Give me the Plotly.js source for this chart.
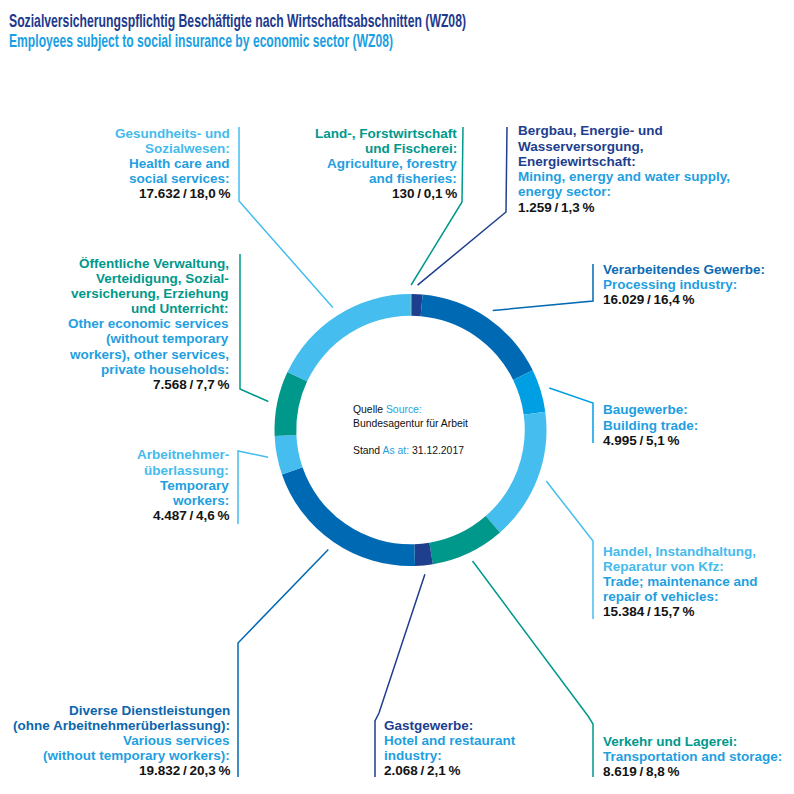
<!DOCTYPE html>
<html><head><meta charset="utf-8">
<script src="https://cdn.plot.ly/plotly-3.0.1.min.js"></script>
<style>body{margin:0;background:#fff}#chart{width:794px;height:794px}</style>
</head><body><div id="chart"></div>
<script>
// ---------- DATA ----------
const categoriesDe = [
  ["Land-, Forstwirtschaft", "und Fischerei:"],
  ["Bergbau, Energie- und", "Wasserversorgung,", "Energiewirtschaft:"],
  ["Verarbeitendes Gewerbe:"],
  ["Baugewerbe:"],
  ["Handel, Instandhaltung,", "Reparatur von Kfz:"],
  ["Verkehr und Lagerei:"],
  ["Gastgewerbe:"],
  ["Diverse Dienstleistungen", "(ohne Arbeitnehmerüberlassung):"],
  ["Arbeitnehmer-", "überlassung:"],
  ["Öffentliche Verwaltung,", "Verteidigung, Sozial-", "versicherung, Erziehung", "und Unterricht:"],
  ["Gesundheits- und", "Sozialwesen:"]
];
const categoriesEn = [
  ["Agriculture, forestry", "and fisheries:"],
  ["Mining, energy and water supply,", "energy sector:"],
  ["Processing industry:"],
  ["Building trade:"],
  ["Trade; maintenance and", "repair of vehicles:"],
  ["Transportation and storage:"],
  ["Hotel and restaurant", "industry:"],
  ["Various services", "(without temporary workers):"],
  ["Temporary", "workers:"],
  ["Other economic services", "(without temporary", "workers), other services,", "private households:"],
  ["Health care and", "social services:"]
];
const employees = [130, 1259, 16029, 4995, 15384, 8619, 2068, 19832, 4487, 7568, 17632]; // in thousands
const sharesPct = [0.1, 1.3, 16.4, 5.1, 15.7, 8.8, 2.1, 20.3, 4.6, 7.7, 18.0];

const titleDe = "Sozialversicherungspflichtig Beschäftigte nach Wirtschaftsabschnitten (WZ08)";
const titleEn = "Employees subject to social insurance by economic sector (WZ08)";
const sourceDe = "Quelle", sourceEn = "Source:", sourceName = "Bundesagentur für Arbeit";
const standDe = "Stand", standEn = "As at:", standDate = "31.12.2017";

// ---------- STYLE ----------
const TEAL = "#00988B", NAVY = "#1E3E8E", MID = "#0069B3", BRIGHT = "#009FE3", LIGHT = "#45BDEE";
const sliceColors = [TEAL, NAVY, MID, BRIGHT, LIGHT, TEAL, NAVY, MID, LIGHT, TEAL, LIGHT];
const deTextColors = [TEAL, NAVY, "#0C6BB5", "#1A9EE2", "#45BBEC", TEAL, NAVY, "#0C66AE", "#45BBEC", TEAL, "#45BBEC"];
const EN_COLOR = "#1F9FE0";
const TITLE_DE_COLOR = "#1E3A8C", TITLE_EN_COLOR = "#1A9FE2";

const W = 794, H = 794;
const CX = 410.5, CY = 430, R = 136, HOLE = 0.84, LEADER_R = 145;
const LINE_H = 15.2;
const TITLE_WIDTHS = [457, 384];
const labelLayout = [
  {x: 458, side: "right", y: 133, leader: [[462, 202], [463, 127]]},
  {x: 517, side: "left",  y: 131, leader: [[506, 212], [507, 127]]},
  {x: 602, side: "left",  y: 269, leader: [[593, 301], [593, 264]]},
  {x: 602, side: "left",  y: 410, leader: [[593, 403], [593, 443]]},
  {x: 602, side: "left",  y: 551, leader: [[593, 541], [593, 619]]},
  {x: 602, side: "left",  y: 741, leader: [[588, 716], [593, 724], [593, 777]]},
  {x: 383, side: "left",  y: 725, leader: [[379, 713], [375, 721], [375, 777]]},
  {x: 231, side: "right", y: 710, leader: [[238, 643], [238, 777]]},
  {x: 230, side: "right", y: 455, leader: [[238, 451], [238, 524]]},
  {x: 230, side: "right", y: 263, leader: [[240, 389], [240, 254]]},
  {x: 231, side: "right", y: 133, leader: [[239, 201], [239, 127]]}
];

const px = x => x / W, py = y => 1 - y / H;
const fmtNum = n => String(n).replace(/\B(?=(\d{3})+(?!\d))/g, ".");
const fmtPct = p => p.toFixed(1).replace(".", ",");
const LABEL_FONT = "Liberation Sans, Arial, sans-serif";

const annotations = [];
const shapes = [];

// leader lines start at each slice's mid angle (computed from the data)
const total = employees.reduce((a, b) => a + b, 0);
let cum = 0;
employees.forEach((v, i) => {
  const mid = (cum + v / 2) / total * 2 * Math.PI;
  cum += v;
  const ex = CX + LEADER_R * Math.sin(mid), ey = CY - LEADER_R * Math.cos(mid);
  const L = labelLayout[i];
  let d = `M${px(ex)},${py(ey)}`;
  L.leader.forEach(p => { d += ` L${px(p[0])},${py(p[1])}`; });
  shapes.push({type: "path", xref: "paper", yref: "paper", path: d,
    line: {color: sliceColors[i], width: 1.5}});

  const lines = [];
  categoriesDe[i].forEach(t => lines.push({t: "<b>" + t + "</b>", c: deTextColors[i]}));
  categoriesEn[i].forEach(t => lines.push({t: "<b>" + t + "</b>", c: EN_COLOR}));
  lines.push({t: "<b>" + fmtNum(v) + "\u2009/\u2009" + fmtPct(sharesPct[i]) + "\u2009%</b>", c: "#141414"});
  lines.forEach((ln, k) => {
    annotations.push({
      xref: "paper", yref: "paper", x: px(L.x), y: py(L.y + k * LINE_H),
      xanchor: L.side, yanchor: "middle", showarrow: false, borderpad: 0, align: L.side,
      text: ln.t, font: {family: LABEL_FONT, size: 13.5, color: ln.c}
    });
  });
});

// titles
annotations.push({xref: "paper", yref: "paper", x: px(8), y: py(20), xanchor: "left", yanchor: "middle",
  showarrow: false, borderpad: 0, align: "left", text: "<b>" + titleDe + "</b>",
  font: {family: LABEL_FONT, size: 18.5, color: TITLE_DE_COLOR}});
annotations.push({xref: "paper", yref: "paper", x: px(8), y: py(41), xanchor: "left", yanchor: "middle",
  showarrow: false, borderpad: 0, align: "left", text: "<b>" + titleEn + "</b>",
  font: {family: LABEL_FONT, size: 18.5, color: TITLE_EN_COLOR}});

// center text
const centerTexts = [
  sourceDe + " <span style='color:" + EN_COLOR + "'>" + sourceEn + "</span>",
  sourceName,
  standDe + " <span style='color:" + EN_COLOR + "'>" + standEn + "</span> " + standDate
];
const centerY = [410, 423, 450];
centerTexts.forEach((t, k) => annotations.push({xref: "paper", yref: "paper", x: px(352), y: py(centerY[k]),
  xanchor: "left", yanchor: "middle", showarrow: false, borderpad: 0, align: "left", text: t,
  font: {family: LABEL_FONT, size: 10.4, color: "#111111"}}));

const trace = {
  type: "pie", values: employees, labels: categoriesDe.map(l => l.join(" ")),
  sort: false, direction: "clockwise", rotation: 0, hole: HOLE,
  marker: {colors: sliceColors, line: {width: 0}},
  textinfo: "none", hoverinfo: "skip", showlegend: false,
  domain: {x: [px(CX - R), px(CX + R)], y: [py(CY + R), py(CY - R)]}
};

Plotly.newPlot("chart", [trace], {
  width: W, height: H, margin: {l: 0, r: 0, t: 0, b: 0},
  paper_bgcolor: "#ffffff", plot_bgcolor: "#ffffff",
  showlegend: false, annotations: annotations, shapes: shapes
}, {staticPlot: true}).then(gd => {
  // condense the two title lines to the reference's condensed typeface width
  const titles = [titleDe, titleEn];
  document.querySelectorAll("text.annotation-text").forEach(el => {
    const idx = titles.indexOf(el.textContent);
    if (idx >= 0) {
      el.setAttribute("textLength", TITLE_WIDTHS[idx]);
      el.setAttribute("lengthAdjust", "spacingAndGlyphs");
    }
  });
});
</script>
</body></html>
